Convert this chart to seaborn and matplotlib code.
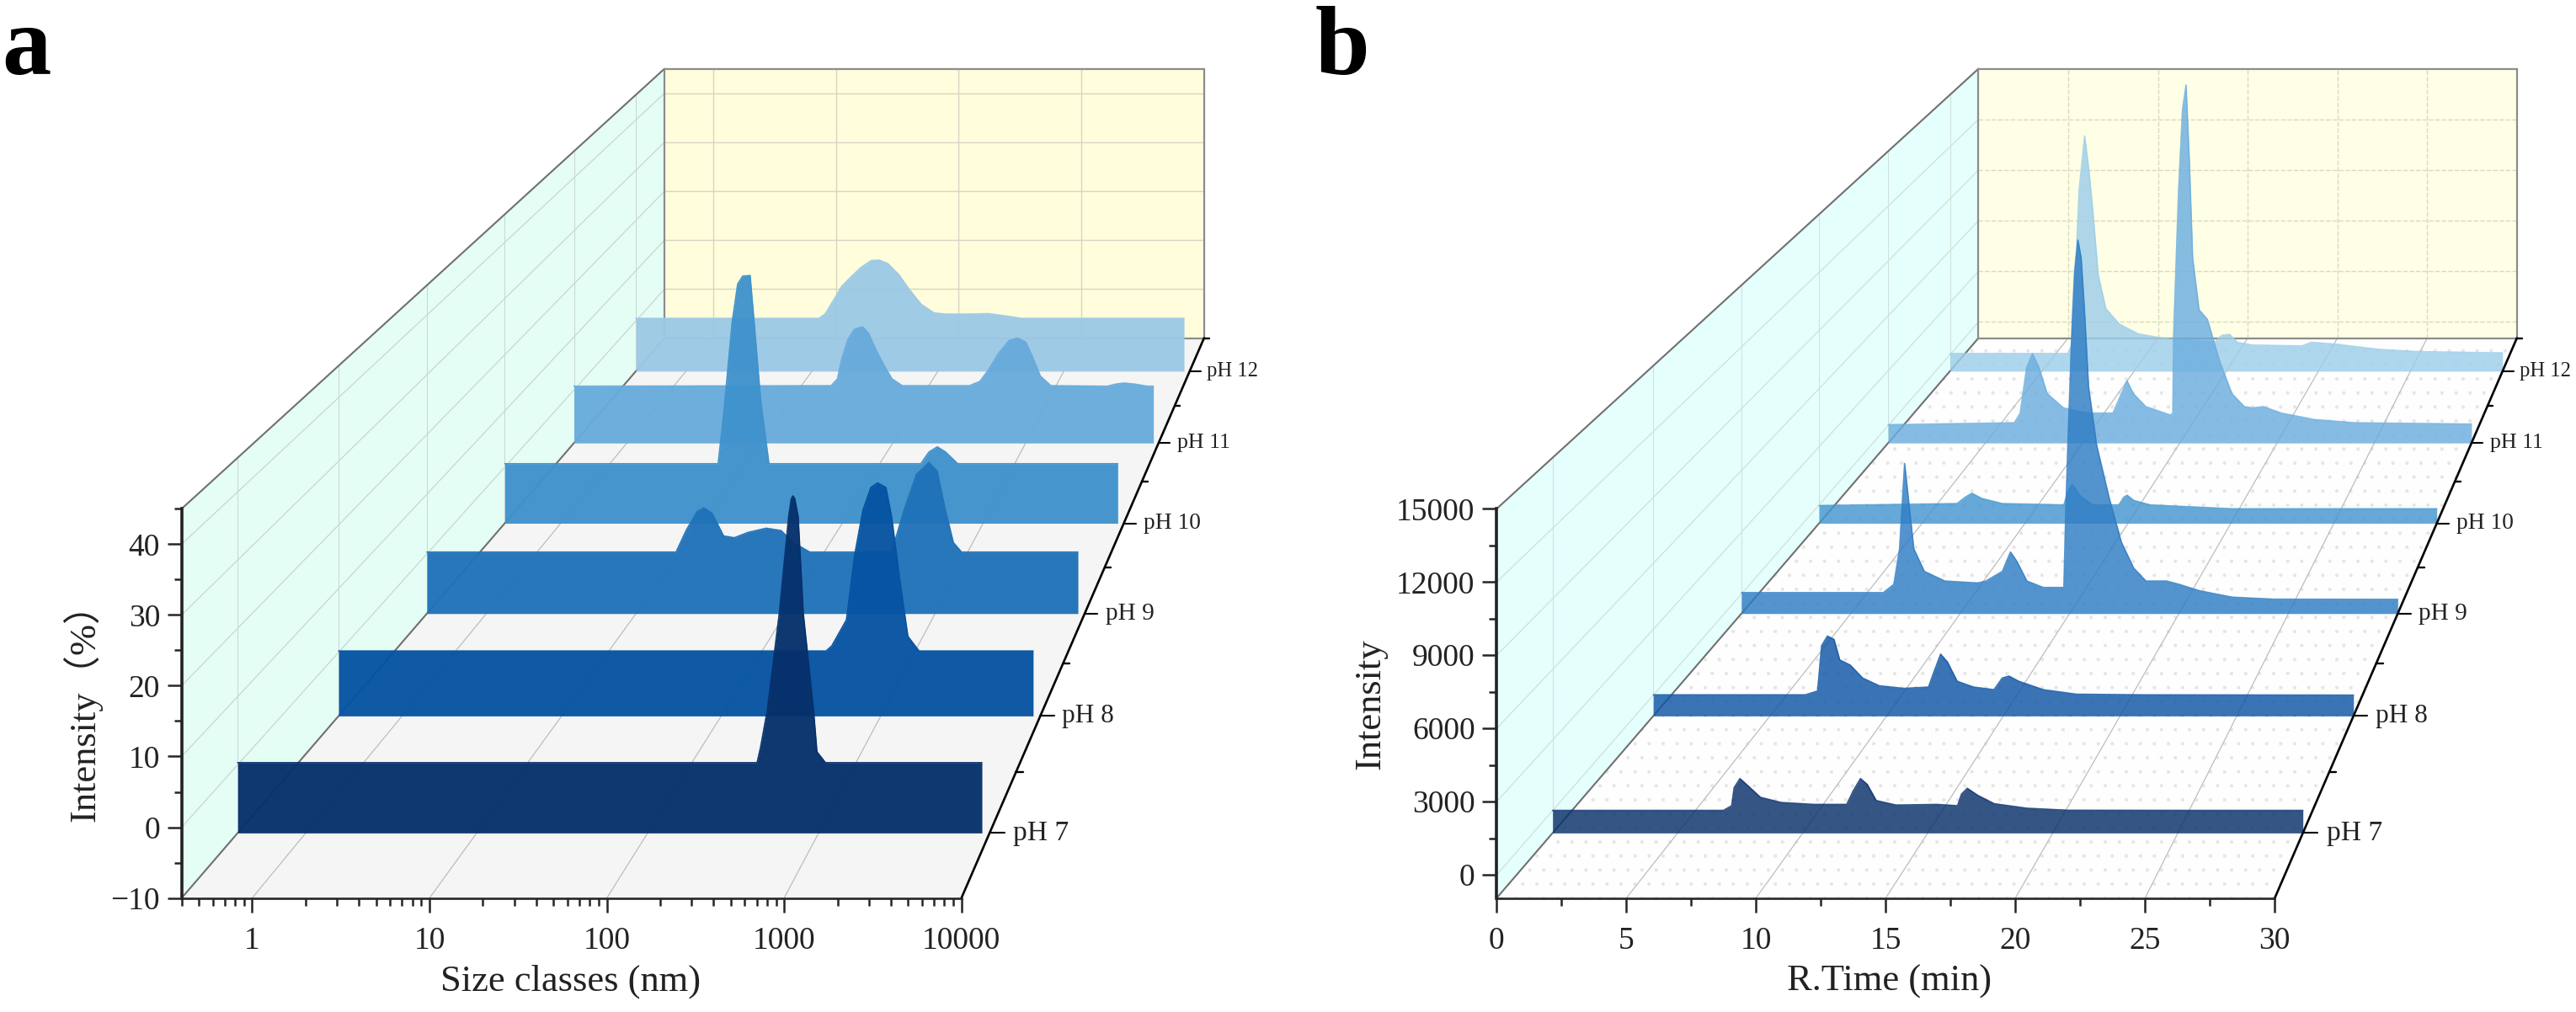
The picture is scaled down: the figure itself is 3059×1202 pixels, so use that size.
import matplotlib
matplotlib.use("Agg")
import matplotlib.pyplot as plt
import numpy as np
import seaborn as sns
from matplotlib.ticker import LogLocator, MultipleLocator, NullFormatter, FixedLocator
from matplotlib.transforms import Affine2D, IdentityTransform

ph_labels = ["pH 7", "pH 8", "pH 9", "pH 10", "pH 11", "pH 12"]

# panel a, log10 of size class (nm) and intensity (%)
log_size_ph7 = [-0.398, 2.64, 2.66, 2.70, 2.77, 2.825, 2.84, 2.85, 2.86, 2.88, 2.91, 2.97, 2.99, 3.04, 3.955]
dls_ph7 = [0.3, 0.3, 2.5, 8, 22.2, 36.4, 39, 39.4, 39, 36.4, 22.2, 8, 1.9, 0.3, 0.3]
log_size_ph8 = [-0.398, 2.657, 2.693, 2.785, 2.836, 2.888, 2.938, 2.98, 3.032, 3.068, 3.12, 3.17, 3.24, 3.955]
dls_ph8 = [0.2, 0.2, 1.0, 5.1, 15.2, 22.3, 25.9, 26.6, 25.9, 21.3, 11.2, 2.5, 0.2, 0.2]
log_size_ph9 = [-0.398, 1.268, 1.339, 1.41, 1.454, 1.509, 1.586, 1.657, 1.75, 1.871, 1.97, 2.052, 2.162, 2.71,
                2.793, 2.875, 2.958, 3.013, 3.068, 3.122, 3.177, 3.955]
dls_ph9 = [0.3, 0.3, 4.1, 7.1, 7.7, 6.8, 3.0, 2.7, 3.6, 4.3, 3.9, 1.9, 0.3, 0.3, 7.4, 13.3, 15.3, 13.9, 7.4, 1.9,
           0.3, 0.3]
log_size_ph10 = [-0.398, 1.118, 1.158, 1.217, 1.257, 1.293, 1.345, 1.374, 1.42, 1.479, 2.558, 2.616, 2.675, 2.733,
                 2.82, 3.957]
dls_ph10 = [0.6, 0.6, 9.6, 25.7, 32.6, 34, 34.1, 25.7, 11.9, 0.6, 0.6, 2.7, 3.6, 2.7, 0.6, 0.6]
log_size_ph11 = [-0.398, 1.537, 1.584, 1.616, 1.663, 1.71, 1.774, 1.82, 1.868, 1.931, 1.994, 2.072, 2.576, 2.655,
                 2.718, 2.796, 2.875, 2.939, 3.001, 3.049, 3.111, 3.19, 3.615, 3.678, 3.741, 3.82, 3.914, 3.961]
dls_ph11 = [0.7, 0.8, 2.1, 5.8, 9.5, 11.4, 11.9, 10.6, 7.9, 4.8, 2.1, 0.8, 0.8, 1.6, 3.7, 6.9, 9.3, 9.8, 9.0, 6.4,
            2.6, 0.8, 0.7, 1.1, 1.3, 1.1, 0.7, 0.7]
log_size_ph12 = [-0.398, 1.054, 1.104, 1.171, 1.237, 1.304, 1.387, 1.47, 1.536, 1.603, 1.69, 1.769, 1.868, 1.969,
                 2.068, 2.234, 2.4, 2.533, 2.666, 3.955]
dls_ph12 = [0.5, 0.5, 1.35, 4.1, 6.9, 8.6, 10.6, 12, 12.1, 11.4, 9.2, 6.4, 3.3, 1.6, 1.35, 1.35, 1.45, 1.0, 0.5, 0.5]

# panel b, retention time (min) and intensity
time_ph7 = [0, 6.83, 7.16, 7.26, 7.49, 7.75, 8.31, 9.13, 10.44, 11.76, 12.02, 12.31, 12.58, 12.94, 13.73, 15.37,
            16.19, 16.35, 16.58, 17, 17.66, 18.98, 20.62, 25.55, 30]
hplc_ph7 = [10, 10, 209, 978, 1362, 1115, 566, 346, 264, 264, 840, 1362, 1115, 429, 236, 264, 209, 703, 950, 648,
            292, 99, 16, 10, 10]
time_ph8 = [0, 6.51, 7.04, 7.21, 7.46, 7.74, 7.99, 8.44, 8.97, 9.68, 10.73, 11.79, 12.03, 12.31, 12.6, 13.02, 13.72,
            14.6, 14.95, 15.24, 15.66, 16.71, 18.12, 20.94, 30]
hplc_ph8 = [12, 12, 188, 2247, 2688, 2541, 1600, 1365, 776, 424, 306, 365, 1071, 1865, 1512, 629, 365, 247, 776,
            865, 629, 247, 41, 12, 0]
time_ph9 = [0, 6.49, 6.97, 7.23, 7.46, 7.69, 7.88, 8.36, 9.3, 10.8, 11.18, 11.93, 12.3, 12.6, 13.05, 13.8, 14.66,
            14.74, 14.82, 14.93, 15.12, 15.23, 15.38, 15.53, 15.68, 15.87, 16.24, 16.8, 17.37, 17.93, 18.49, 19.43,
            19.99, 20.93, 22.43, 24.31, 30]
hplc_ph9 = [67, 67, 474, 2200, 6342, 4083, 2200, 1102, 631, 537, 631, 1102, 2043, 1573, 631, 318, 318, 318, 3769,
            7535, 13183, 15693, 17199, 16320, 13811, 10046, 7222, 4712, 2516, 1261, 631, 631, 475, 161, -153, -250,
            -260]
time_ph10 = [0, 6.7, 7.1, 7.42, 7.9, 8.9, 11.89, 12.09, 12.29, 12.68, 13.28, 14.56, 14.8, 14.96, 15.28, 16.07,
             20.06, 30]
hplc_ph10 = [-36, 64, 397, 597, 330, 64, -3, 730, 1064, 464, -3, -3, 397, 497, 230, -3, -203, -203]
time_ph11 = [0, 6.49, 6.79, 7.12, 7.42, 7.76, 8.18, 9.02, 10.29, 11.56, 11.85, 12.28, 12.61, 13.25, 14.51, 14.64,
             14.68, 14.93, 15.14, 15.32, 15.49, 15.66, 15.99, 16.42, 17.05, 17.68, 18.32, 18.74, 19.29, 20.22,
             21.91, 24.02, 30]
hplc_ph11 = [49, 155, 685, 3157, 3933, 3157, 1744, 967, 685, 685, 1391, 2450, 1744, 1038, 579, 685, 4923, 12690,
             17281, 18622, 14455, 9158, 6332, 5802, 3507, 1744, 1038, 967, 1038, 685, 332, 155, 85]
time_ph12 = [0, 6.4, 6.6, 6.81, 7.01, 7.31, 7.53, 7.74, 8.05, 8.46, 9.19, 10.22, 11.25, 11.98, 14.36, 14.77, 15.18,
             15.6, 16.42, 19.11, 19.63, 20.97, 23.25, 25.31, 30]
hplc_ph12 = [71, 71, 557, 4607, 9468, 12628, 10766, 8496, 4607, 2662, 1772, 1204, 1009, 912, 717, 1126, 1174, 717,
             557, 508, 717, 606, 314, 183, 105]

log_sizes = [log_size_ph7, log_size_ph8, log_size_ph9, log_size_ph10, log_size_ph11, log_size_ph12]
dls_curves = [dls_ph7, dls_ph8, dls_ph9, dls_ph10, dls_ph11, dls_ph12]
times = [time_ph7, time_ph8, time_ph9, time_ph10, time_ph11, time_ph12]
hplc_curves = [hplc_ph7, hplc_ph8, hplc_ph9, hplc_ph10, hplc_ph11, hplc_ph12]

colors_a = ["#06306B", "#0553A2", "#1F72B8", "#3F92CC", "#67ABDB", "#9CC9E5"]
colors_b = ["#08306B", "#0F56A5", "#2F7DC4", "#4496D0", "#6CAEDF", "#9DCEE9"]

W, H = 3059, 1202
SHRINK = 0.0742           # perspective per depth unit
VANISH = (2.01, 4.67)     # vanishing point in axes coordinates
DEPTH = 6
SERIF = ["Liberation Serif", "Noto Sans CJK SC", "DejaVu Sans"]

sns.set_style("ticks")
plt.rcParams["font.family"] = SERIF
plt.rcParams["axes.unicode_minus"] = True
plt.rcParams["hatch.linewidth"] = 0.6


def depth_scale(d):
    return 1 / (1 + SHRINK * d)


def depth_shift(ax, d):
    vx, vy = ax.transAxes.transform(VANISH)
    s = depth_scale(d)
    return Affine2D().translate(-vx, -vy).scale(s).translate(vx, vy)


def project(ax, x, y, d):
    return depth_shift(ax, d).transform(ax.transData.transform((x, y)))


def px_line(ax, p, q, **kw):
    ax.plot([p[0], q[0]], [p[1], q[1]], transform=IdentityTransform(), clip_on=False, **kw)


def px_poly(ax, pts, **kw):
    pts = np.array(pts)
    ax.fill(pts[:, 0], pts[:, 1], transform=IdentityTransform(), clip_on=False, **kw)


def make_axes(fig, left, right, xlim, ylim, xscale):
    top, bottom = 604.3, 1066.6
    ax = fig.add_axes([left / W, 1 - bottom / H, (right - left) / W, (bottom - top) / H])
    ax.set_xscale(xscale)
    ax.set_xlim(*xlim)
    ax.set_ylim(*ylim)
    ax.set_autoscale_on(False)
    ax.patch.set_visible(False)
    return ax


def draw_box(ax, xticks, yticks, wall, back, floor, floor_grid, wall_grid, back_grid, ls, hatch=None):
    x0, x1 = ax.get_xlim()
    y0, y1 = ax.get_ylim()
    px_poly(ax, [project(ax, x0, y0, 0), project(ax, x0, y1, 0), project(ax, x0, y1, DEPTH), project(ax, x0, y0, DEPTH)],
            color=wall, lw=0, zorder=1)
    px_poly(ax, [project(ax, x0, y0, DEPTH), project(ax, x0, y1, DEPTH), project(ax, x1, y1, DEPTH), project(ax, x1, y0, DEPTH)],
            color=back, lw=0, zorder=1)
    px_poly(ax, [project(ax, x0, y0, 0), project(ax, x1, y0, 0), project(ax, x1, y0, DEPTH), project(ax, x0, y0, DEPTH)],
            facecolor=floor, edgecolor="#E6E6E6" if hatch else floor, hatch=hatch, lw=0, zorder=1)
    for y in yticks:
        px_line(ax, project(ax, x0, y, 0), project(ax, x0, y, DEPTH), color=wall_grid, lw=0.9, zorder=2)
        px_line(ax, project(ax, x0, y, DEPTH), project(ax, x1, y, DEPTH), color=back_grid, lw=1.0, ls=ls, zorder=2)
    for x in xticks:
        px_line(ax, project(ax, x, y0, 0), project(ax, x, y0, DEPTH), color=floor_grid, lw=0.9, zorder=2)
        px_line(ax, project(ax, x, y0, DEPTH), project(ax, x, y1, DEPTH), color=back_grid, lw=1.0, ls=ls, zorder=2)
    for d in np.arange(0.5, DEPTH):
        px_line(ax, project(ax, x0, y0, d), project(ax, x0, y1, d), color=wall_grid, lw=0.7, zorder=2)
    # edges of the box
    edge = dict(color="#8C8C8C", lw=1.6, zorder=3)
    px_line(ax, project(ax, x0, y1, 0), project(ax, x0, y1, DEPTH), color="#707070", lw=1.5, zorder=3)
    px_line(ax, project(ax, x0, y0, 0), project(ax, x0, y0, DEPTH), color="#707070", lw=1.5, zorder=3)
    px_line(ax, project(ax, x0, y1, DEPTH), project(ax, x1, y1, DEPTH), **edge)
    px_line(ax, project(ax, x0, y0, DEPTH), project(ax, x1, y0, DEPTH), **edge)
    px_line(ax, project(ax, x1, y0, DEPTH), project(ax, x1, y1, DEPTH), **edge)
    px_line(ax, project(ax, x0, y0, DEPTH), project(ax, x0, y1, DEPTH), **edge)


def draw_depth_axis(ax):
    x1 = ax.get_xlim()[1]
    y0 = ax.get_ylim()[0]
    px_line(ax, project(ax, x1, y0, 0), project(ax, x1, y0, DEPTH), color="black", lw=1.9, zorder=40)
    for d in range(1, DEPTH + 1):
        p = project(ax, x1, y0, d)
        px_line(ax, p, (p[0] + 9 * depth_scale(d), p[1]), color="black", lw=1.7, zorder=40)
    for k, label in enumerate(ph_labels):
        d = k + 0.5
        s = depth_scale(d)
        p = project(ax, x1, y0, d)
        px_line(ax, p, (p[0] + 18 * s, p[1]), color="black", lw=1.5, zorder=40)
        ax.text(p[0] + 29 * s, p[1], label, transform=IdentityTransform(), fontsize=25 * s,
                va="center", ha="left", color="#222222", clip_on=False)


def draw_ribbons(ax, xs, curves, colors, alpha):
    y0 = ax.get_ylim()[0]
    for k in range(len(curves) - 1, -1, -1):
        trans = ax.transData + depth_shift(ax, k + 0.5)
        z = 10 + (len(curves) - k) * 2
        ax.fill_between(xs[k], curves[k], y0, color=colors[k], alpha=alpha, lw=0, transform=trans,
                        clip_on=False, zorder=z)
        sns.lineplot(x=xs[k], y=curves[k], ax=ax, color=colors[k], lw=1.2, alpha=alpha, estimator=None,
                     sort=False, legend=False, errorbar=None, transform=trans, clip_on=False, zorder=z)


def style_axes(ax, xlabel, ylabel, label_xy):
    for side in ["top", "right"]:
        ax.spines[side].set_visible(False)
    ax.spines["left"].set_linewidth(2.6)
    ax.spines["bottom"].set_linewidth(1.9)
    ax.spines["left"].set_color("#222222")
    ax.spines["left"].set_zorder(40)
    ax.spines["bottom"].set_zorder(40)
    ax.tick_params(axis="both", which="major", length=12.5, width=1.8, labelsize=27, labelcolor="#222222")
    ax.tick_params(axis="both", which="minor", length=6.5, width=1.8)
    ax.tick_params(axis="x", which="major", pad=12)
    ax.tick_params(axis="y", which="major", pad=6)
    ax.set_xlabel(xlabel, fontsize=32, va="center", color="#222222")
    ax.set_ylabel(ylabel, fontsize=32, va="center", ha="center", color="#222222")
    ax.xaxis.set_label_coords(label_xy[0], -0.2145)
    ax.yaxis.set_label_coords(label_xy[1], label_xy[2])


def main():
    fig = plt.figure(figsize=(W / 100, H / 100), dpi=100)

    ax_a = make_axes(fig, 215.7, 1141.7, (0.4, 10000), (-10, 45), "log")
    ax_a.xaxis.set_major_locator(FixedLocator([1, 10, 100, 1000, 10000]))
    ax_a.xaxis.set_minor_locator(LogLocator(base=10, subs=np.arange(2, 10), numticks=20))
    ax_a.xaxis.set_minor_formatter(NullFormatter())
    ax_a.set_xticklabels(["1", "10", "100", "1000", "10000"])
    ax_a.yaxis.set_major_locator(MultipleLocator(10))
    ax_a.yaxis.set_minor_locator(MultipleLocator(5))
    draw_box(ax_a, [1, 10, 100, 1000], [0, 10, 20, 30, 40], "#E4FDF5", "#FFFDDC", "#F5F5F5",
             "#BDBDBD", "#C9D6D2", "#D6D5C2", "-")
    sizes = [10 ** np.array(v) for v in log_sizes]
    draw_ribbons(ax_a, sizes, dls_curves, colors_a, 0.96)
    draw_depth_axis(ax_a)
    style_axes(ax_a, "Size classes (nm)", "Intensity（%）", (0.4993, -0.1276, 0.50))

    ax_b = make_axes(fig, 1777.3, 2701.3, (0, 30), (-950, 15000), "linear")
    ax_b.xaxis.set_major_locator(MultipleLocator(5))
    ax_b.xaxis.set_minor_locator(MultipleLocator(2.5))
    ax_b.yaxis.set_major_locator(MultipleLocator(3000))
    ax_b.yaxis.set_minor_locator(MultipleLocator(1500))
    draw_box(ax_b, [5, 10, 15, 20, 25], [0, 3000, 6000, 9000, 12000], "#E5FFFC", "#FFFFE5", "#FEFEFE",
             "#BDBDBD", "#CFE0D8", "#DADAC4", (0, (4, 1.5)), hatch=".")
    draw_ribbons(ax_b, times, hplc_curves, colors_b, 0.82)
    draw_depth_axis(ax_b)
    style_axes(ax_b, "R.Time (min)", "Intensity", (0.505, -0.162, 0.4993))

    fig.text(2 / W, 1 - 88 / H, "a", fontsize=84, fontweight="bold", va="baseline", ha="left", color="black")
    fig.text(1562 / W, 1 - 88 / H, "b", fontsize=84, fontweight="bold", va="baseline", ha="left", color="black")

    fig.savefig("out.png", dpi=100, facecolor="white")


if __name__ == "__main__":
    main()
